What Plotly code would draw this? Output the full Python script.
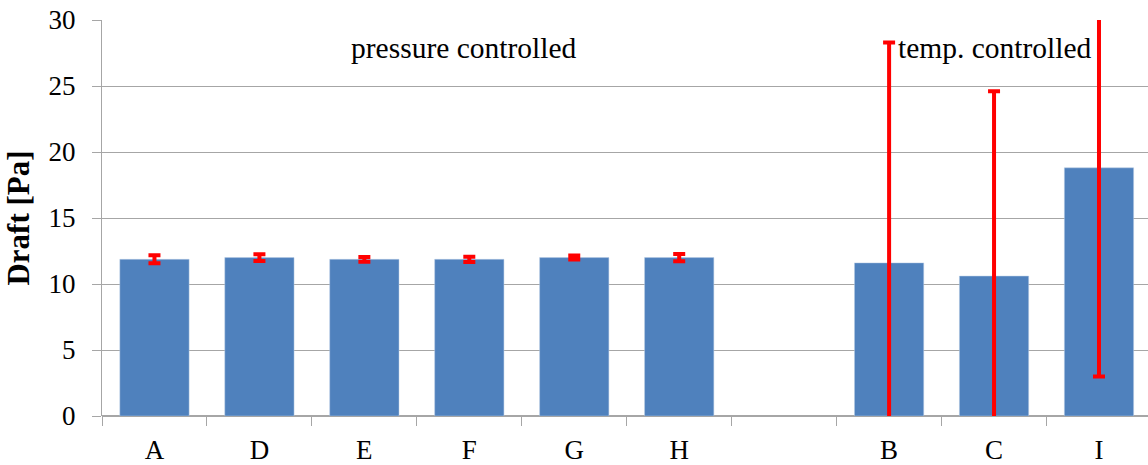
import plotly.graph_objects as go

categories = ["A", "D", "E", "F", "G", "H", " ", "B", "C", "I"]
draft = [11.87, 12.0, 11.87, 11.87, 12.0, 12.0, None, 11.6, 10.6, 18.8]
draft_err = [0.3, 0.25, 0.18, 0.2, 0.15, 0.27, None, 16.7, 14.0, 15.8]
y_ticks = [0, 5, 10, 15, 20, 25, 30]

FONT = "'Liberation Serif', 'Times New Roman', serif"
GRID = "#A6A6A6"

fig = go.Figure()
fig.add_trace(go.Bar(
    x=categories, y=draft,
    marker=dict(color="#4F81BD", line=dict(color="#B9CDE5", width=0.5)),
    error_y=dict(type="data", array=draft_err, visible=True,
                 color="#FF0000", thickness=4, width=6),
    showlegend=False,
))

fig.update_layout(
    width=1148, height=465,
    margin=dict(l=102, r=0, t=20, b=49),
    paper_bgcolor="white", plot_bgcolor="white",
    bargap=0.34,
    font=dict(family=FONT, color="black", size=27),
    xaxis=dict(
        type="category", categoryorder="array", categoryarray=categories,
        range=[-0.5, 9.467], tickson="boundaries", ticks="outside", ticklen=9,
        tickcolor=GRID, showline=False, showgrid=False,
        tickfont=dict(family=FONT, size=27), ticklabelstandoff=15,
    ),
    yaxis=dict(
        range=[0, 30], tickvals=y_ticks, showgrid=True, gridcolor=GRID, gridwidth=1,
        ticks="outside", ticklen=9, tickcolor=GRID,
        showline=True, linecolor=GRID, linewidth=1, zeroline=True, zerolinecolor=GRID,
        tickfont=dict(family=FONT, size=27), ticklabelstandoff=11,
        title=dict(text="<b>Draft [Pa]</b>", font=dict(family=FONT, size=31), standoff=9),
    ),
    annotations=[
        dict(text="pressure controlled", x=0.3465, y=27.9, xref="paper", yref="y",
             xanchor="center", yanchor="middle", showarrow=False,
             font=dict(family=FONT, size=29.5)),
        dict(text="temp. controlled", x=0.8535, y=27.9, xref="paper", yref="y",
             xanchor="center", yanchor="middle", showarrow=False,
             font=dict(family=FONT, size=29.5)),
    ],
)

fig.write_html("out.html")
